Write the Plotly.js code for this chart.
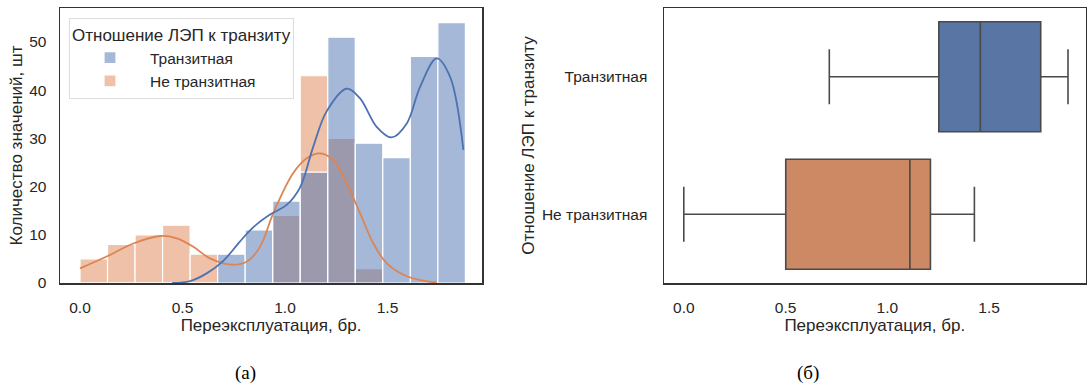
<!DOCTYPE html>
<html>
<head>
<meta charset="utf-8">
<script src="https://cdn.plot.ly/plotly-3.0.1.min.js"></script>
<style>html,body{margin:0;padding:0;background:#fff;}#chart{width:1087px;height:388px;}</style>
</head>
<body>
<div id="chart"></div>
<script>
// ---- Data ----
const histStart = 0.0;
const histEnd = 1.88;
const nBins = 14;
const countsTransit    = [0, 0, 0, 0, 0, 6, 11, 17, 23, 51, 29, 26, 47, 54];
const countsNonTransit = [5, 8, 10, 12, 6, 0, 0, 14, 43, 30, 3, 0, 0, 0];

const kdeTransitX = [0.45, 0.537, 0.618, 0.699, 0.78, 0.846, 0.927, 1.008, 1.073, 1.138, 1.203, 1.3, 1.366, 1.447, 1.52, 1.594, 1.659, 1.74, 1.805, 1.87];
const kdeTransitY = [0.0, 0.4, 2.0, 4.6, 8.6, 11.6, 14.2, 16.2, 19.8, 28.3, 35.6, 40.3, 38.3, 32.4, 30.2, 33.1, 40.7, 46.6, 42.8, 27.6];

const kdeNonTransitX = [0.0, 0.13, 0.26, 0.39, 0.472, 0.553, 0.634, 0.74, 0.813, 0.878, 0.943, 1.04, 1.106, 1.17, 1.236, 1.3, 1.366, 1.431, 1.496, 1.577, 1.659, 1.74];
const kdeNonTransitY = [3.05, 5.5, 8.2, 9.75, 9.27, 7.5, 5.1, 3.8, 4.4, 7.5, 14.5, 22.8, 25.9, 26.9, 25.5, 20.7, 14.5, 8.2, 4.1, 1.7, 0.6, 0.1];

const categories = ['Транзитная', 'Не транзитная'];
const boxQ1     = [1.253, 0.501];
const boxMedian = [1.457, 1.111];
const boxQ3     = [1.754, 1.212];
const boxLow    = [0.715, 0.0];
const boxHigh   = [1.888, 1.428];

const xTicks = [0, 0.5, 1.0, 1.5];
const yTicksLeft = [0, 10, 20, 30, 40, 50];

const legendTitle = 'Отношение ЛЭП к транзиту';
const xTitle = 'Переэксплуатация, бр.';
const yTitleLeft = 'Количество значений, шт';
const yTitleRight = 'Отношение ЛЭП к транзиту';
const captions = ['(а)', '(б)'];

// ---- Styles ----
const BLUE = '#4C72B0', ORANGE = '#DD8452';
const BLUE_A = 'rgba(76,114,176,0.5)', ORANGE_A = 'rgba(221,132,82,0.5)';
const BOX_BLUE = '#5875a4', BOX_ORANGE = '#cc8963';
const TXT = '#262626', FRAME = '#333333', BOXLINE = '#4a4a4a';
const FONT = 'Liberation Sans, Arial, sans-serif';
const SERIF = 'Liberation Serif, Times New Roman, serif';

const binW = (histEnd - histStart) / nBins;
const centers = countsTransit.map((_, i) => histStart + binW * (i + 0.5));

const traces = [
  {type: 'bar', x: centers, y: countsNonTransit, width: binW, name: categories[1],
   marker: {color: ORANGE_A, line: {color: '#ffffff', width: 1.2}}, xaxis: 'x', yaxis: 'y', legendrank: 2},
  {type: 'bar', x: centers, y: countsTransit, width: binW, name: categories[0],
   marker: {color: BLUE_A, line: {color: '#ffffff', width: 1.2}}, xaxis: 'x', yaxis: 'y', legendrank: 1},
  {type: 'scatter', mode: 'lines', x: kdeNonTransitX, y: kdeNonTransitY, line: {color: ORANGE, width: 1.8, shape: 'spline', smoothing: 1.0},
   showlegend: false, xaxis: 'x', yaxis: 'y', hoverinfo: 'skip'},
  {type: 'scatter', mode: 'lines', x: kdeTransitX, y: kdeTransitY, line: {color: BLUE, width: 1.8, shape: 'spline', smoothing: 1.0},
   showlegend: false, xaxis: 'x', yaxis: 'y', hoverinfo: 'skip'}
];

const boxFills = [BOX_BLUE, BOX_ORANGE];
categories.forEach((c, i) => {
  traces.push({
    type: 'box', orientation: 'h', y: [c],
    q1: [boxQ1[i]], median: [boxMedian[i]], q3: [boxQ3[i]],
    lowerfence: [boxLow[i]], upperfence: [boxHigh[i]],
    fillcolor: boxFills[i], line: {color: BOXLINE, width: 1.6},
    width: 0.8, whiskerwidth: 0.5, boxpoints: false,
    showlegend: false, xaxis: 'x2', yaxis: 'y2', hoverinfo: 'skip'
  });
});

const W = 1087;
const axBase = {
  showline: true, mirror: true, linecolor: FRAME, linewidth: 1.5,
  showgrid: false, zeroline: false, ticks: 'outside', tickcolor: 'rgba(0,0,0,0)',
  tickfont: {family: FONT, size: 15.5, color: TXT}
};
const titleFont = {family: FONT, size: 17, color: TXT};

const layout = {
  width: 1087, height: 388,
  margin: {l: 0, r: 0, t: 8, b: 105},
  paper_bgcolor: '#ffffff', plot_bgcolor: '#ffffff',
  font: {family: FONT, color: TXT},
  barmode: 'overlay', bargap: 0, boxmode: 'overlay',
  showlegend: true,
  legend: {
    x: 69 / W, y: (283 - 18) / 275, xanchor: 'left', yanchor: 'top',
    bgcolor: '#ffffff', bordercolor: '#dddddd', borderwidth: 1,
    font: {family: FONT, size: 15.5, color: TXT},
    title: {text: legendTitle, font: {family: FONT, size: 17, color: TXT}},
    traceorder: 'normal', itemwidth: 70
  },
  xaxis: Object.assign({}, axBase, {
    domain: [60 / W, 482 / W], range: [-0.0976, 1.961],
    tickvals: xTicks, tickformat: '.1f', ticklen: 10, anchor: 'y',
    title: {text: xTitle, font: titleFont, standoff: 4}
  }),
  yaxis: Object.assign({}, axBase, {
    domain: [0, 1], range: [0, 57.05], tickvals: yTicksLeft, ticklen: 9, anchor: 'x',
    title: {text: yTitleLeft, font: titleFont, standoff: 2}
  }),
  xaxis2: Object.assign({}, axBase, {
    domain: [664 / W, 1085.5 / W], range: [-0.0973, 1.974],
    tickvals: xTicks, tickformat: '.1f', ticklen: 10, anchor: 'y2',
    title: {text: xTitle, font: titleFont, standoff: 4}
  }),
  yaxis2: Object.assign({}, axBase, {
    domain: [0, 1], type: 'category', categoryorder: 'array',
    categoryarray: [categories[1], categories[0]], range: [-0.5, 1.5],
    ticklen: 12, anchor: 'x2',
    title: {text: yTitleRight, font: titleFont, standoff: 3}
  }),
  annotations: [
    {text: captions[0], xref: 'paper', yref: 'paper', x: 245 / W, y: (283 - 373) / 275, showarrow: false,
     xanchor: 'center', yanchor: 'middle', font: {family: SERIF, size: 19, color: '#000'}},
    {text: captions[1], xref: 'paper', yref: 'paper', x: 808 / W, y: (283 - 373) / 275, showarrow: false,
     xanchor: 'center', yanchor: 'middle', font: {family: SERIF, size: 19, color: '#000'}}
  ]
};

Plotly.newPlot('chart', traces, layout, {displayModeBar: false, staticPlot: true});
</script>
</body>
</html>
